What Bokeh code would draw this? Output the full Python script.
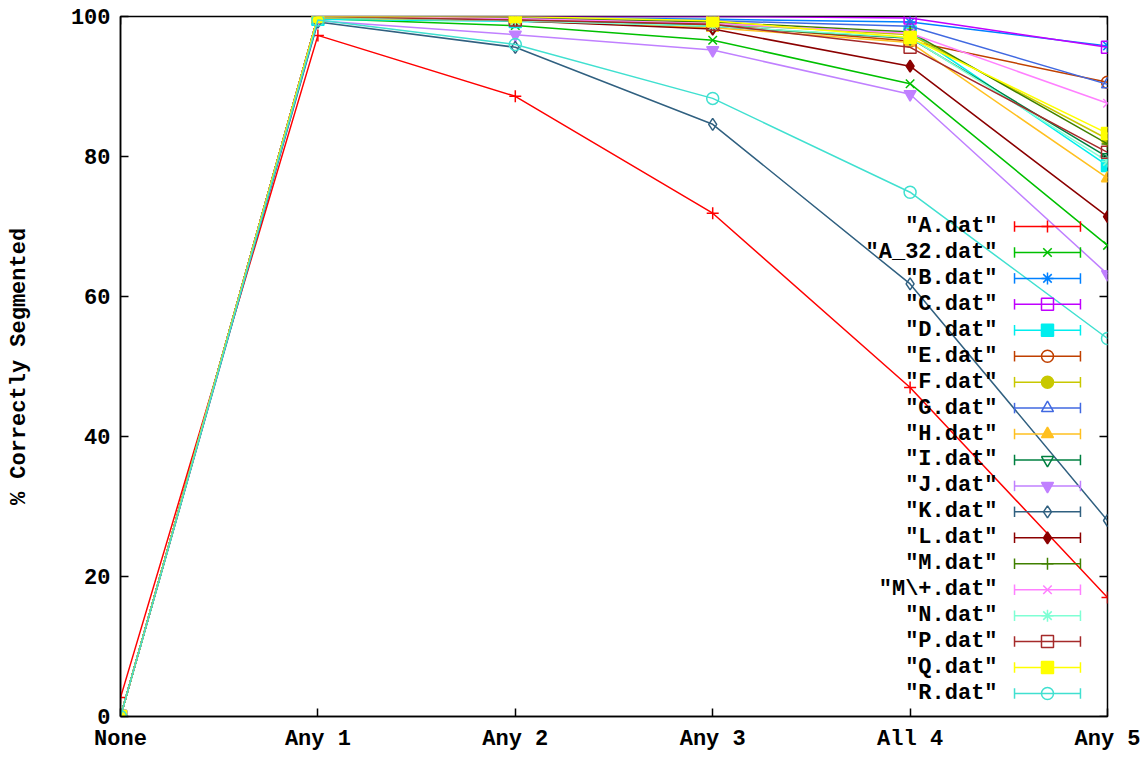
from bokeh.plotting import figure
from bokeh.models import Range1d, FixedTicker
from bokeh.core.properties import value
from bokeh.embed import file_html
from bokeh.resources import INLINE

categories = ["None", "Any 1", "Any 2", "Any 3", "All 4", "Any 5"]
y_ticks = [0, 20, 40, 60, 80, 100]

names = ['"A.dat"', '"A_32.dat"', '"B.dat"', '"C.dat"', '"D.dat"', '"E.dat"',
         '"F.dat"', '"G.dat"', '"H.dat"', '"I.dat"', '"J.dat"', '"K.dat"',
         '"L.dat"', '"M.dat"', '"M\\+.dat"', '"N.dat"', '"P.dat"', '"Q.dat"', '"R.dat"']

A = [2.7, 97.3, 88.6, 71.9, 47.0, 17.0]
A_32 = [0, 99.7, 98.7, 96.6, 90.4, 67.3]
B = [0, 100, 99.9, 99.6, 99.2, 95.8]
C = [0, 100, 100, 100, 99.8, 95.6]
D = [0, 99.6, 99.3, 98.8, 97.8, 78.7]
E = [0, 100, 99.6, 98.8, 96.5, 90.6]
F = [0, 100, 99.7, 99.0, 97.4, 82.5]
G = [0, 100, 99.8, 99.4, 98.6, 90.3]
H = [0, 99.8, 99.4, 98.4, 96.3, 76.9]
I = [0, 99.9, 99.5, 98.6, 96.9, 79.9]
J = [0, 99.4, 97.4, 95.2, 88.9, 63.2]
K = [0, 99.2, 95.6, 84.6, 61.8, 28.0]
L = [0, 100, 99.4, 98.2, 92.9, 71.4]
M = [0, 100, 99.8, 99.2, 97.8, 81.8]
M_plus = [0, 100, 99.7, 99.0, 97.6, 87.6]
N = [0, 99.9, 99.4, 98.6, 97.0, 79.3]
P = [0, 100, 99.5, 98.9, 95.6, 80.6]
Q = [0, 100, 100, 99.4, 97.0, 83.3]
R = [0, 99.5, 96.0, 88.3, 74.9, 54.0]

series = [A, A_32, B, C, D, E, F, G, H, I, J, K, L, M, M_plus, N, P, Q, R]

colors = ["#ff0000", "#00c000", "#0080ff", "#c000ff", "#00eeee", "#c04000",
          "#c8c800", "#4169e1", "#ffc020", "#008040", "#c080ff", "#306080",
          "#8b0000", "#408000", "#ff80ff", "#7fffd4", "#a52a2a", "#ffff00", "#40e0d0"]
markers = [("cross", False), ("x", False), ("asterisk", False), ("square", False),
           ("square", True), ("circle", False), ("circle", True), ("triangle", False),
           ("triangle", True), ("inverted_triangle", False), ("inverted_triangle", True),
           ("diamond", False), ("diamond", True), ("cross", False), ("x", False),
           ("asterisk", False), ("square", False), ("square", True), ("circle", False)]

FONT = value("Liberation Mono")
FSIZE = "22px"

p = figure(width=1147, height=759, output_backend="svg", toolbar_location=None,
           x_range=Range1d(0, 5), y_range=Range1d(0, 100),
           min_border_left=120, min_border_right=40, min_border_top=16, min_border_bottom=43)
p.xgrid.visible = False
p.ygrid.visible = False
p.outline_line_color = "black"
p.outline_line_width = 1.5
p.background_fill_color = "white"
p.border_fill_color = "white"

xs = list(range(len(categories)))

def style_axis(ax):
    ax.major_tick_in = 8
    ax.major_tick_out = 0
    ax.minor_tick_in = 0
    ax.minor_tick_out = 0
    ax.major_tick_line_color = "black"
    ax.major_tick_line_width = 1.5
    ax.axis_line_color = "black"
    ax.axis_line_width = 1.5
    ax.major_label_text_font = "Liberation Mono"
    ax.major_label_text_font_style = "bold"
    ax.major_label_text_font_size = FSIZE
    ax.major_label_text_color = "black"

p.xaxis.ticker = FixedTicker(ticks=xs)
p.xaxis.major_label_overrides = {i: c for i, c in enumerate(categories)}
p.yaxis.ticker = FixedTicker(ticks=y_ticks)
style_axis(p.xaxis[0])
style_axis(p.yaxis[0])
p.xaxis.major_label_standoff = 10
p.yaxis.major_label_standoff = 10
p.yaxis.axis_label = "% Correctly Segmented"
p.yaxis.axis_label_text_font = "Liberation Mono"
p.yaxis.axis_label_text_font_style = "bold"
p.yaxis.axis_label_text_font_size = "22px"
p.yaxis.axis_label_text_color = "black"
p.yaxis.axis_label_standoff = 36

# mirrored inward ticks on top and right edges (gnuplot border style)
x_lo, x_hi = 0, 5
y_lo, y_hi = 0, 100
tick_dy = 8 / 7.0       # 8 px in y data units
tick_dx = 8 / 197.4     # 8 px in x data units
p.segment(x0=xs, y0=[y_hi] * len(xs), x1=xs, y1=[y_hi - tick_dy] * len(xs),
          line_color="black", line_width=1.5)
p.segment(x0=[x_hi] * len(y_ticks), y0=y_ticks, x1=[x_hi - tick_dx] * len(y_ticks), y1=y_ticks,
          line_color="black", line_width=1.5)

MSIZE = 12
for ys, col, (mk, filled) in zip(series, colors, markers):
    p.line(xs, ys, line_color=col, line_width=1.5)
    p.scatter(xs, ys, marker=mk, size=MSIZE, line_color=col, line_width=1.5,
              fill_color=col if filled else None)

# gnuplot-style key (text right aligned, sample with end ticks)
text_x = 4.443
s0, s1, sm = 4.529, 4.863, 4.696
row0, step = 70.0, 3.706
for i, (nm, col, (mk, filled)) in enumerate(zip(names, colors, markers)):
    yy = row0 - step * i
    p.text(x=[text_x], y=[yy], text=[nm], text_align="right", text_baseline="middle",
           text_font=FONT, text_font_style="bold", text_font_size=FSIZE, text_color="black")
    p.segment(x0=[s0], y0=[yy], x1=[s1], y1=[yy], line_color=col, line_width=1.5)
    p.segment(x0=[s0, s1], y0=[yy - 0.75, yy - 0.75], x1=[s0, s1], y1=[yy + 0.75, yy + 0.75],
              line_color=col, line_width=1.5)
    p.scatter([sm], [yy], marker=mk, size=MSIZE, line_color=col, line_width=1.5,
              fill_color=col if filled else None)

open("out.html", "w").write(file_html(p, INLINE))
